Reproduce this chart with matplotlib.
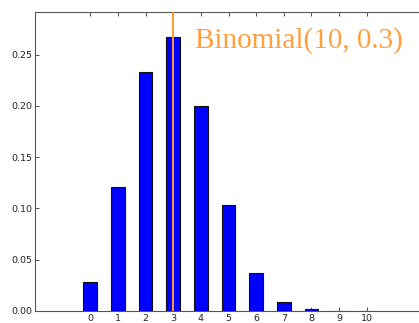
import matplotlib
matplotlib.use("Agg")
import matplotlib.pyplot as plt
import numpy as np

# Binomial(10, 0.3) probabilities
k = [0, 1, 2, 3, 4, 5, 6, 7, 8, 9, 10]
pmf = [0.028, 0.121, 0.233, 0.267, 0.200, 0.103, 0.037, 0.009, 0.0015, 0.0001, 0.0000]
mean_line = 3
title = "Binomial(10, 0.3)"

fig = plt.figure(figsize=(4.19, 3.23), dpi=100)
# right spine sits just past the picture edge, as in the cropped original
ax = fig.add_axes([35 / 419, 12 / 323, 387 / 419, 299 / 323])

ax.bar(k, pmf, width=0.5, align='center', color='#0000ff',
       edgecolor='#111111', linewidth=0.8, zorder=2)
ax.axvline(mean_line, color='#ff9a30', linewidth=1.4, zorder=3)

ax.set_xlim(-2, 12)
ax.set_ylim(0, 0.2917)
ax.set_xticks(k)
ax.set_yticks([0.0, 0.05, 0.10, 0.15, 0.20, 0.25])
ax.set_yticklabels(["%.2f" % v for v in [0.0, 0.05, 0.10, 0.15, 0.20, 0.25]])
ax.tick_params(direction='in', top=True, right=False, length=3, width=0.6,
               labelsize=6.8, labelcolor='#222222', color='#333333', pad=2)

for s in ax.spines.values():
    s.set_color('#555555')
    s.set_linewidth(0.8)

ax.text(3.8, 0.2565, title, family=['Liberation Serif', 'DejaVu Serif'],
        fontsize=21, color='#ffa040', va='baseline', ha='left')

fig.savefig("out.png", dpi=100)
